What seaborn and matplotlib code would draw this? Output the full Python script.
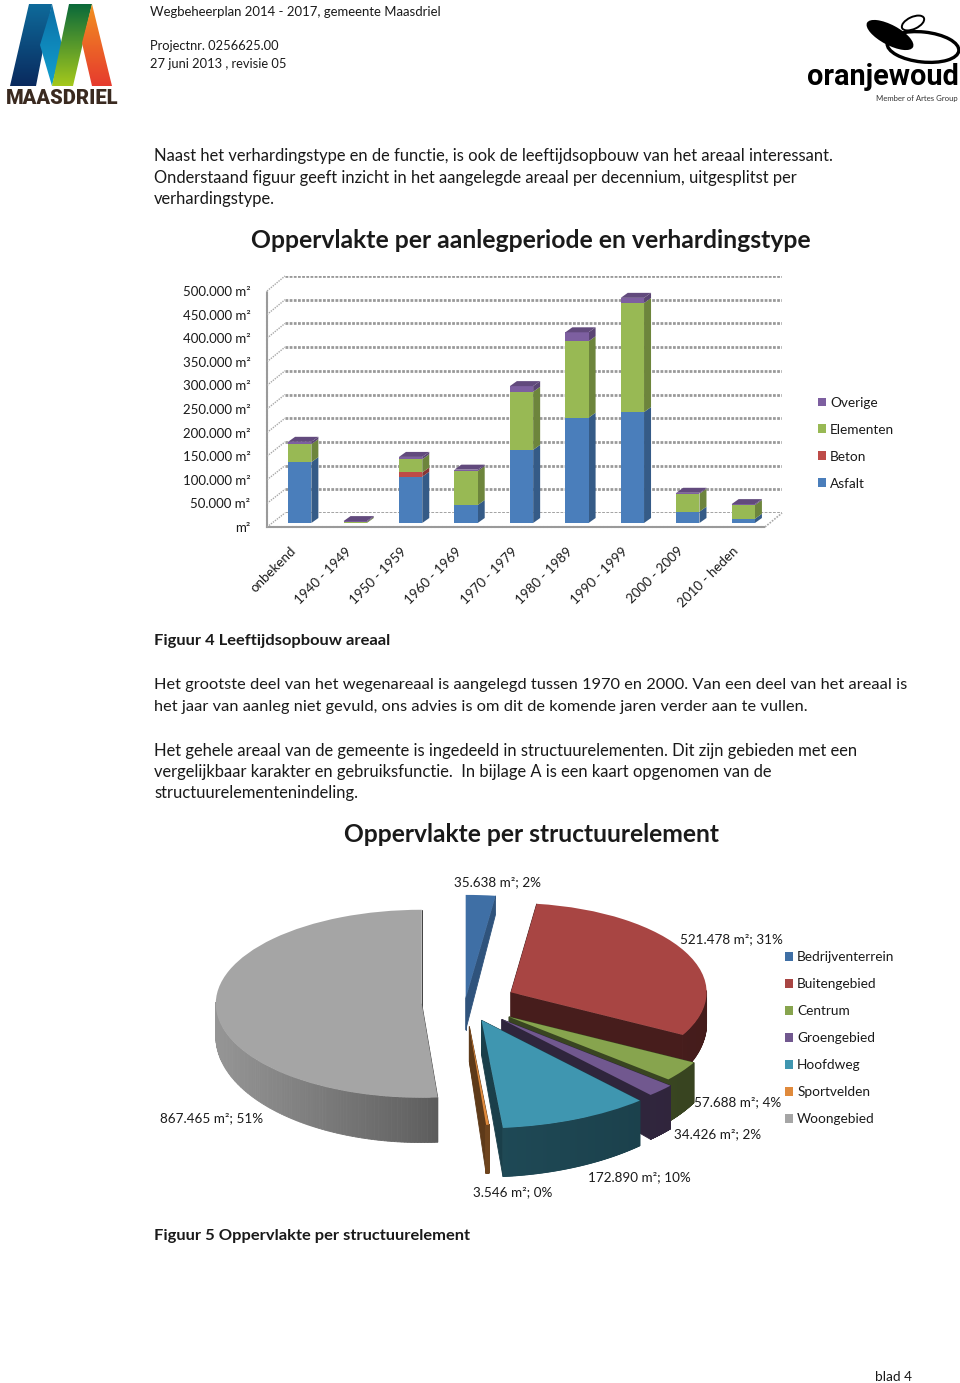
import numpy as np
import pandas as pd
import matplotlib
matplotlib.use('Agg')
import matplotlib.pyplot as plt
from matplotlib.patches import Patch, Polygon, Ellipse
from matplotlib.colors import to_rgb
from matplotlib.transforms import ScaledTranslation
import seaborn as sns

# ---- data staafdiagram
periods = ['onbekend', '1940 - 1949', '1950 - 1959', '1960 - 1969', '1970 - 1979',
           '1980 - 1989', '1990 - 1999', '2000 - 2009', '2010 - heden']
asfalt = [129000, 0, 98000, 38000, 155000, 223000, 235000, 24000, 9000]
beton = [0, 0, 9000, 0, 0, 0, 0, 0, 0]
elementen = [38000, 2000, 28000, 72000, 123000, 162000, 231000, 38000, 29000]
overige = [5000, 2000, 5000, 3000, 12000, 19000, 11000, 2000, 2000]
y_ticks = [0, 50000, 100000, 150000, 200000, 250000, 300000, 350000, 400000, 450000, 500000]
y_tick_labels = ['m²', '50.000 m²', '100.000 m²', '150.000 m²', '200.000 m²', '250.000 m²',
                 '300.000 m²', '350.000 m²', '400.000 m²', '450.000 m²', '500.000 m²']

# ---- data taartdiagram
elements = ['Bedrijventerrein', 'Buitengebied', 'Centrum', 'Groengebied',
            'Hoofdweg', 'Sportvelden', 'Woongebied']
areas = [35638, 521478, 57688, 34426, 172890, 3546, 867465]
area_labels = ['35.638 m²; 2%', '521.478 m²; 31%', '57.688 m²; 4%', '34.426 m²; 2%',
               '172.890 m²; 10%', '3.546 m²; 0%', '867.465 m²; 51%']

BAR_COLORS = {'Asfalt': '#4a7ebb', 'Beton': '#be4b48', 'Elementen': '#98b954', 'Overige': '#7d5fa0'}
PIE_COLORS = ['#3f6fa5', '#a84543', '#87a44e', '#71588f', '#3f96b0', '#e08a3c', '#a5a5a5']
TEXT = '#1a1a1a'

W, H = 960, 1383

sns.set_theme(style='white')
plt.rcParams['font.family'] = ['Lato', 'DejaVu Sans']

fig = plt.figure(figsize=(W / 100, H / 100), dpi=100)


def px_axes(left, top, right, bottom, **kw):
    return fig.add_axes([left / W, 1 - bottom / H, (right - left) / W, (bottom - top) / H], **kw)


def shade(color, f):
    return tuple(c * f for c in to_rgb(color))


# pagina-as in pixels
page = px_axes(0, 0, W, H)
page.set_xlim(0, W)
page.set_ylim(H, 0)
page.axis('off')


def gradient_poly(ax, pts, top, bottom):
    poly = Polygon(pts, closed=True, transform=ax.transData, fc='none', ec='none')
    ax.add_patch(poly)
    xs, ys = zip(*pts)
    grad = np.linspace(0, 1, 64)[:, None]
    c0, c1 = np.array(to_rgb(top)), np.array(to_rgb(bottom))
    img = (c0[None, None, :] * (1 - grad[..., None]) + c1[None, None, :] * grad[..., None])
    im = ax.imshow(img, extent=[min(xs), max(xs), max(ys), min(ys)], aspect='auto', zorder=2)
    im.set_clip_path(poly)


# logo Maasdriel
gradient_poly(page, [(29, 4), (52, 4), (36, 86), (10, 86)], '#0e6a9a', '#0a2a5e')
gradient_poly(page, [(50, 12), (52, 4), (62, 45), (52, 86), (40, 45)], '#0c6fa5', '#12a0d0')
gradient_poly(page, [(69, 4), (92, 4), (73, 86), (52, 86)], '#0b6a3a', '#a4c81c')
gradient_poly(page, [(92, 4), (112, 86), (92, 86), (82, 43)], '#f29020', '#e63b2e')
page.text(62, 98.5, 'MAASDRIEL', fontsize=14.5, fontweight='black', color='#3a2a20',
          ha='center', va='center', family=['Roboto', 'DejaVu Sans'], stretch='condensed')

# logo oranjewoud
page.add_patch(Ellipse((923, 47), 72, 30, angle=6, fc='none', ec='black', lw=2.4))
page.add_patch(Ellipse((890, 35), 52, 20, angle=28, fc='black', ec='none', zorder=3))
page.add_patch(Ellipse((913, 23), 24, 12, angle=-25, fc='none', ec='black', lw=1.4))
page.text(883, 77, 'oranjewoud', fontsize=20.8, fontweight='bold', color='black', ha='center', va='center',
          family=['Roboto', 'DejaVu Sans'])
page.text(917, 98, 'Member of Artes Group', fontsize=5.6, color='#333333', ha='center', va='center')

# paginatekst
body = [
    (150, 11.5, 'Wegbeheerplan 2014 - 2017, gemeente Maasdriel', 9.45, 'normal'),
    (150, 46.5, 'Projectnr. 0256625.00', 9.3, 'normal'),
    (150, 63.5, '27 juni 2013 , revisie 05', 9.3, 'normal'),
    (154, 156, 'Naast het verhardingstype en de functie, is ook de leeftijdsopbouw van het areaal interessant.', 11.88, 'normal'),
    (154, 178, 'Onderstaand figuur geeft inzicht in het aangelegde areaal per decennium, uitgesplitst per', 11.88, 'normal'),
    (154, 199, 'verhardingstype.', 11.88, 'normal'),
    (154, 641, 'Figuur 4 Leeftijdsopbouw areaal', 11.85, 'bold'),
    (154, 685, 'Het grootste deel van het wegenareaal is aangelegd tussen 1970 en 2000. Van een deel van het areaal is', 11.8, 'normal'),
    (154, 707, 'het jaar van aanleg niet gevuld, ons advies is om dit de komende jaren verder aan te vullen.', 11.8, 'normal'),
    (154, 751, 'Het gehele areaal van de gemeente is ingedeeld in structuurelementen. Dit zijn gebieden met een', 11.9, 'normal'),
    (154, 772, 'vergelijkbaar karakter en gebruiksfunctie.  In bijlage A is een kaart opgenomen van de', 11.9, 'normal'),
    (154, 793, 'structuurelementenindeling.', 11.9, 'normal'),
    (154, 1236, 'Figuur 5 Oppervlakte per structuurelement', 11.85, 'bold'),
    (875, 1377, 'blad 4', 9.8, 'normal'),
]
for x, y, s, size, weight in body:
    page.text(x, y, s, fontsize=size, fontweight=weight, color=TEXT, va='center')
page.text(531, 240, 'Oppervlakte per aanlegperiode en verhardingstype', fontsize=17.8, fontweight='bold',
          color=TEXT, ha='center', va='center')
page.text(531, 834, 'Oppervlakte per structuurelement', fontsize=17.7, fontweight='bold',
          color=TEXT, ha='center', va='center')

# ---- staafdiagram: achterwand, voorvlak en staven hebben dezelfde schaal
GRID = '#9a9a9a'
wall = px_axes(285, 276, 782, 513, facecolor='none')
wall.set_ylim(0, 500000)
wall.set_yticks(y_ticks)
wall.set_yticklabels([])
wall.set_xticks([])
wall.grid(axis='y', color=GRID, lw=2, ls=(0, (1, 0.5)))
sns.despine(ax=wall, left=True, bottom=True)
wall.tick_params(left=False)

front = px_axes(267, 291, 765, 527, facecolor='none')
front.set_xlim(-0.5, 8.5)
front.set_ylim(0, 500000)
front.set_yticks(y_ticks)
front.set_yticklabels(y_tick_labels, fontsize=9.55, color=TEXT)
front.set_xticks(np.arange(-0.5, 9.5))
front.set_xticklabels([])
front.set_xticks(np.arange(len(periods)), minor=True)
front.set_xticklabels(periods, minor=True, rotation=45, ha='right', rotation_mode='anchor',
                      fontsize=9.6, color=TEXT)
front.tick_params(axis='x', which='minor', length=0, pad=13)
front.tick_params(axis='x', which='major', length=4, color=GRID)
front.tick_params(axis='y', length=3, color=GRID, pad=9)
shift_left = ScaledTranslation(-5 / 100, 0, fig.dpi_scale_trans)
for lab in front.get_xticklabels(minor=True):
    lab.set_transform(lab.get_transform() + shift_left)
for side in ['top', 'right']:
    front.spines[side].set_visible(False)
for side in ['left', 'bottom']:
    front.spines[side].set_color(GRID)
    front.spines[side].set_linewidth(1.5)
    front.spines[side].set_linestyle((0, (1, 0.8)))

# schuine lijnen tussen voorvlak en achterwand
for t in y_ticks:
    p0 = front.transData.transform((-0.5, t))
    p1 = wall.transData.transform((wall.get_xlim()[0], t))
    a, b = page.transData.inverted().transform([p0, p1])
    page.plot([a[0], b[0]], [a[1], b[1]], color='#a8a8a8', lw=1, ls=(0, (1, 0.8)))
p0 = front.transData.transform((8.5, 0))
p1 = wall.transData.transform((wall.get_xlim()[1], 0))
a, b = page.transData.inverted().transform([p0, p1])
page.plot([a[0], b[0]], [a[1], b[1]], color='#a8a8a8', lw=1.2, ls=(0, (1, 0.8)))

bars = px_axes(272, 287, 771, 523, facecolor='none')
series = [('Asfalt', asfalt), ('Beton', beton), ('Elementen', elementen), ('Overige', overige)]
df = pd.DataFrame({name: vals for name, vals in series}, index=periods)
bottoms = df.cumsum(axis=1).shift(1, axis=1).fillna(0)
for name, _ in series:
    sns.barplot(x=periods, y=df[name].values, bottom=bottoms[name].values, color=BAR_COLORS[name],
                saturation=1, width=0.42, ax=bars, zorder=3, linewidth=0)
bars.set_xlim(-0.5, 8.5)
bars.set_ylim(0, 500000)
bars.axis('off')

# 3d-zijkanten bij de staven
dx, dy = 7 / 55.4, 5 / 236 * 500000
for k, (name, _) in enumerate(series):
    col = BAR_COLORS[name]
    for patch in bars.containers[k]:
        h = patch.get_height()
        if h <= 0:
            continue
        x0, x1 = patch.get_x(), patch.get_x() + patch.get_width()
        y0, y1 = patch.get_y(), patch.get_y() + h
        bars.add_patch(Polygon([(x1, y0), (x1 + dx, y0 + dy), (x1 + dx, y1 + dy), (x1, y1)],
                               fc=shade(col, 0.72), ec='none', zorder=2))
        if name == 'Overige':
            bars.add_patch(Polygon([(x0, y1), (x1, y1), (x1 + dx, y1 + dy), (x0 + dx, y1 + dy)],
                                   fc=shade(col, 0.78), ec='none', zorder=4))

LEGEND_STYLE = dict(frameon=False, fontsize=9.8, labelspacing=1.1, handlelength=0.62, handleheight=0.62,
                    handletextpad=0.3, borderaxespad=0, borderpad=0.2, labelcolor=TEXT)
handles = [Patch(fc=BAR_COLORS[n], ec='none', label=n) for n in ['Overige', 'Elementen', 'Beton', 'Asfalt']]
leg_top = page.legend(handles=handles, loc='upper left', bbox_to_anchor=(815 / W, 1 - 394 / H),
                      bbox_transform=fig.transFigure, **LEGEND_STYLE)
page.add_artist(leg_top)

# ---- taartdiagram met uitgetrokken punten
explode = [0.05, 0.25, 0.26, 0.25, 0.2, 0.25, 0.21]
radii = [1.1, 0.95, 1.02, 1.08, 1.15, 1.05, 1.0]
cut_shade = [0.75, 0.42, 0.42, 0.42, 0.42, 0.42, 0.42]
pie = px_axes(259, 909, 671, 1097, facecolor='none')
wedges, _ = pie.pie(areas, colors=PIE_COLORS, startangle=90, counterclock=False, explode=explode,
                    radius=1.0, wedgeprops={'linewidth': 0, 'zorder': 5})
pie.set_aspect('auto')
pie.set_xlim(-1, 1)
pie.set_ylim(-1, 1)
pie.axis('off')


def depth(y):
    # aan de voorkant is de taart dikker dan achter
    return 0.3 + 0.13 * (0.35 - y)


def side_quads(wedge, color, cut):
    cx, cy = wedge.center
    th = np.radians(np.linspace(wedge.theta1, wedge.theta2, 200))
    ax_, ay_ = cx + wedge.r * np.cos(th), cy + wedge.r * np.sin(th)
    quads = []
    for i in range(len(th) - 1):
        if np.sin((th[i] + th[i + 1]) / 2) > 0.02:
            continue
        f = np.interp(ax_[i], [-1.25, -0.3, 0.0, 1.25], [0.92, 0.62, 0.5, 0.4])
        pts = [(ax_[i], ay_[i]), (ax_[i + 1], ay_[i + 1]),
               (ax_[i + 1], ay_[i + 1] - depth(ay_[i + 1])), (ax_[i], ay_[i] - depth(ay_[i]))]
        quads.append((min(ay_[i], ay_[i + 1]), pts, shade(color, f)))
    for px_, py_ in [(ax_[0], ay_[0]), (ax_[-1], ay_[-1])]:
        pts = [(cx, cy), (px_, py_), (px_, py_ - depth(py_)), (cx, cy - depth(cy))]
        quads.append((max(cy, py_), pts, shade(color, cut)))
    return quads


for n, w in enumerate(wedges):
    w.set_radius(radii[n])
    w.set_zorder(10 + 2 * n + 1)
    w.set_clip_on(False)
    for _, pts, col in sorted(side_quads(w, PIE_COLORS[n], cut_shade[n]), key=lambda q: -q[0]):
        pie.add_patch(Polygon(pts, fc=col, ec=col, lw=0.6, zorder=10 + 2 * n, clip_on=False))

label_pos = [(497, 882), (731, 939), (738, 1102), (718, 1134), (639, 1177), (513, 1192), (212, 1118)]
for (x, y), s in zip(label_pos, area_labels):
    page.text(x, y, s, fontsize=9.7, color=TEXT, ha='center', va='center')

handles = [Patch(fc=c, ec='none', label=e) for c, e in zip(PIE_COLORS, elements)]
page.legend(handles=handles, loc='upper left', bbox_to_anchor=(782 / W, 1 - 948.5 / H),
            bbox_transform=fig.transFigure, **LEGEND_STYLE)

page.set_xlim(0, W)
page.set_ylim(H, 0)
page.set_zorder(20)
page.patch.set_alpha(0)

fig.savefig('out.png', dpi=100)
